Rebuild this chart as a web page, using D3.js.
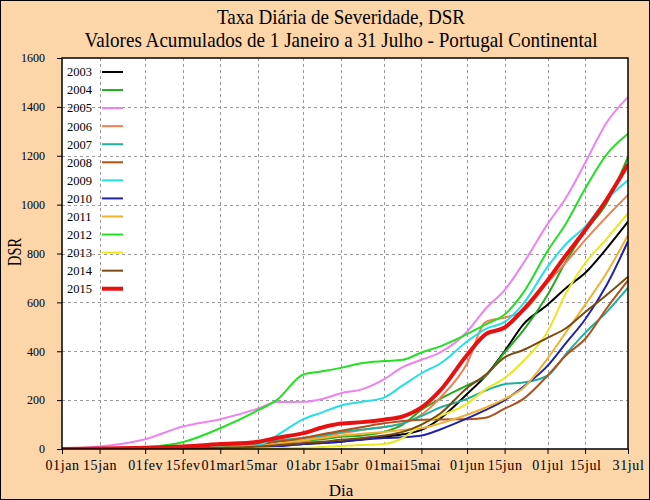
<!DOCTYPE html>
<html><head><meta charset="utf-8">
<script src="https://cdn.jsdelivr.net/npm/d3@7"></script>
<style>body{margin:0;background:#fff}</style>
</head><body><svg id="c" width="650" height="500"></svg>
<script>
// ---- DATA ----
const days = [0,14,31,45,59,73,80,90,97,104,112,120,127,134,141,151,158,165,172,181,188,195,203,211];
const tickDays = [0,14,31,45,59,73,90,104,120,134,151,165,181,195,211];
const tickLabels = ["01jan","15jan","01fev","15fev","01mar","15mar","01abr","15abr","01mai","15mai","01jun","15jun","01jul","15jul","31jul"];
const yTicks = [0,200,400,600,800,1000,1200,1400,1600];
const years = ["2003","2004","2005","2006","2007","2008","2009","2010","2011","2012","2013","2014","2015"];
const dsr2003 = [0,0,0,2,5,10,15,20,25,30,40,50,60,78,125,225,300,400,510,590,660,720,820,930];
const dsr2004 = [0,0,2,5,10,20,30,35,40,50,55,70,100,160,205,260,300,395,485,630,770,890,1005,1195];
const dsr2005 = [0,10,40,92,122,165,192,193,205,228,245,285,335,365,395,480,575,650,760,920,1030,1170,1335,1440];
const dsr2006 = [0,0,2,4,6,12,20,35,50,65,78,90,105,140,210,350,520,538,565,680,765,855,950,1040];
const dsr2007 = [0,2,4,6,10,25,35,45,55,70,80,90,105,135,170,205,240,265,272,300,390,475,560,660];
const dsr2008 = [0,0,2,5,10,20,30,45,60,75,90,105,115,120,121,122,128,165,205,300,385,450,575,690];
const dsr2009 = [0,0,2,5,8,15,55,122,150,178,193,210,260,310,350,440,492,520,595,745,840,910,1020,1100];
const dsr2010 = [0,0,0,1,3,5,10,20,25,30,38,45,48,55,80,125,160,200,255,340,435,530,670,850];
const dsr2011 = [0,0,1,3,6,10,20,35,45,55,62,70,78,85,105,140,170,205,250,370,480,590,720,875];
const dsr2012 = [0,2,8,28,85,158,200,305,318,332,352,360,365,395,420,470,510,550,640,810,925,1065,1205,1290];
const dsr2013 = [0,0,0,0,2,3,4,5,8,12,16,20,45,100,135,185,245,290,360,480,640,760,860,965];
const dsr2014 = [0,0,0,2,5,10,15,25,30,38,45,55,70,100,145,250,305,375,405,455,495,560,630,705];
const dsr2015 = [0,2,5,10,20,30,45,65,88,104,110,120,133,170,240,385,470,497,570,690,795,895,1020,1165];

const seriesValues = [dsr2003,dsr2004,dsr2005,dsr2006,dsr2007,dsr2008,dsr2009,dsr2010,dsr2011,dsr2012,dsr2013,dsr2014,dsr2015];
const colors = ["#000000","#22AA22","#EE82EE","#F08050","#20B0A0","#B0501A","#22E0E8","#2222AA","#F0B030","#22E022","#E8E820","#7A4A10","#E81010"];
const widths = [2,2,2,2,2,2,2,2,2,2,2,2,4];

// ---- DRAW ----
const FONT = "'Liberation Serif','Times New Roman',serif";
const svg = d3.select("#c").style("font-family", FONT);
svg.append("rect").attr("x",0.5).attr("y",0.5).attr("width",649).attr("height",499)
  .attr("fill","#FCD5A8").attr("stroke","#000");

const x = d3.scaleLinear().domain([0,211]).range([62,628]);
const y = d3.scaleLinear().domain([0,1600]).range([449,58]);

svg.append("rect").attr("x",62).attr("y",58).attr("width",566).attr("height",391).attr("fill","#fff");

// grid
const grid = svg.append("g").attr("stroke","#999").attr("stroke-dasharray","3,3").attr("stroke-width",1);
yTicks.filter(v => v>0 && v<1600).forEach(v => {
  grid.append("line").attr("x1",62).attr("x2",628).attr("y1",Math.round(y(v))+0.5).attr("y2",Math.round(y(v))+0.5);
});
tickDays.filter(d => d>0 && d<211).forEach(d => {
  grid.append("line").attr("y1",58).attr("y2",449).attr("x1",Math.round(x(d))+0.5).attr("x2",Math.round(x(d))+0.5);
});

// lines
const line = d3.line().x((d,i)=>x(days[i])).y(d=>y(d)).curve(d3.curveMonotoneX);
svg.append("clipPath").attr("id","pc").append("rect").attr("x",62).attr("y",58).attr("width",566).attr("height",391);
const lg = svg.append("g").attr("clip-path","url(#pc)");
seriesValues.forEach((vals,k)=>{
  lg.append("path").attr("d",line(vals)).attr("fill","none")
    .attr("stroke",colors[k]).attr("stroke-width",widths[k]).attr("stroke-linejoin","round");
});

// axes
const yAxis = d3.axisLeft(y).tickValues(yTicks).tickSize(5).tickPadding(12).tickFormat(d3.format("d"));
const gy = svg.append("g").attr("transform","translate(62,0)").call(yAxis);
gy.select(".domain").remove();
gy.selectAll("text").attr("font-family",FONT).attr("font-size",12).attr("fill","#000");
gy.selectAll("line").attr("stroke","#000");

const xAxis = d3.axisBottom(x).tickValues(tickDays).tickSize(5).tickPadding(6).tickFormat((d,i)=>tickLabels[i]);
const gx = svg.append("g").attr("transform","translate(0,449)").call(xAxis);
gx.select(".domain").remove();
gx.selectAll("text").attr("font-family",FONT).attr("font-size",14).attr("letter-spacing","0.6px").attr("fill","#000");
gx.selectAll("line").attr("stroke","#000");

// frame
svg.append("rect").attr("x",62).attr("y",58).attr("width",566).attr("height",391)
  .attr("fill","none").attr("stroke","#000").attr("stroke-width",1.5);

// legend
const leg = svg.append("g");
years.forEach((yr,i)=>{
  const yy = 72 + i*18.06;
  leg.append("text").attr("x",67).attr("y",yy).attr("dy","0.35em").attr("font-size",12.5).text(yr);
  leg.append("line").attr("x1",102).attr("x2",123).attr("y1",yy).attr("y2",yy)
    .attr("stroke",colors[i]).attr("stroke-width",widths[i]);
});

// titles
svg.append("text").attr("x",341).attr("y",24).attr("text-anchor","middle").attr("font-size",21)
  .attr("textLength",248).attr("lengthAdjust","spacingAndGlyphs").text("Taxa Diária de Severidade, DSR");
svg.append("text").attr("x",341).attr("y",47).attr("text-anchor","middle").attr("font-size",21)
  .attr("textLength",513).attr("lengthAdjust","spacingAndGlyphs").text("Valores Acumulados de 1 Janeiro a 31 Julho - Portugal Continental");
svg.append("text").attr("x",341).attr("y",496).attr("text-anchor","middle").attr("font-size",17).text("Dia");
svg.append("text").attr("transform","translate(21,252) rotate(-90)").attr("text-anchor","middle").attr("font-size",19)
  .attr("textLength",28).attr("lengthAdjust","spacingAndGlyphs").text("DSR");
</script>
</body></html>
